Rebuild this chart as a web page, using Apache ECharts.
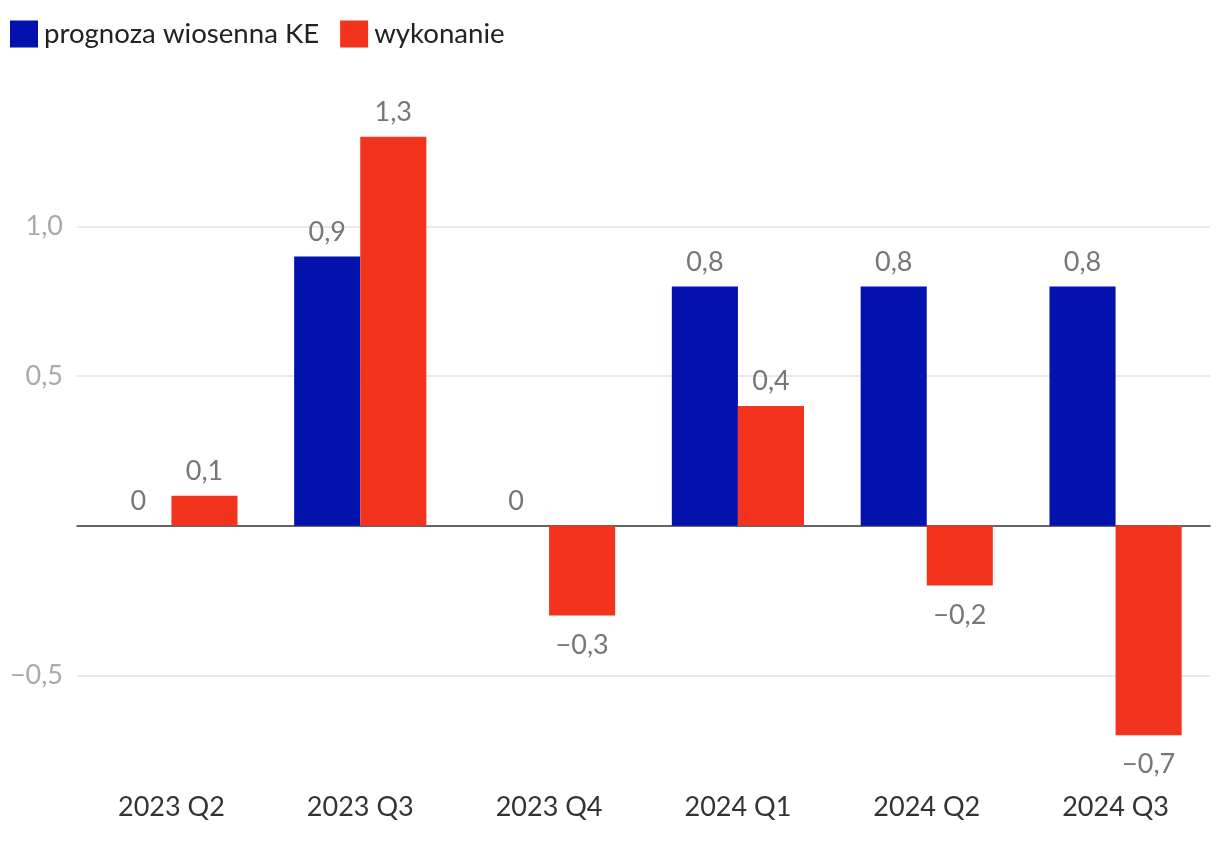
<!DOCTYPE html>
<html><head><meta charset="utf-8">
<script src="https://cdn.jsdelivr.net/npm/echarts@6/dist/echarts.min.js"></script>
<style>html,body{margin:0;padding:0;background:#fff}#c{width:1220px;height:842px}</style>
</head><body><div id="c"></div>
<script>
const categories = ['2023 Q2','2023 Q3','2023 Q4','2024 Q1','2024 Q2','2024 Q3'];
const forecast = [0, 0.9, 0, 0.8, 0.8, 0.8];
const actual = [0.1, 1.3, -0.3, 0.4, -0.2, -0.7];
const yTicks = [-0.5, 0.5, 1.0];
const seriesNames = ['prognoza wiosenna KE','wykonanie'];

function fmt(v){
  if (v === 0) return '0';
  const s = Math.abs(v).toFixed(1).replace('.', ',');
  return (v < 0 ? '\u2212' : '') + s;
}
function items(arr){
  return arr.map(v => ({value: v, label: v < 0 ? {position: 'bottom', distance: 16} : {position: 'top', distance: 11}}));
}
const chart = echarts.init(document.getElementById('c'));
const labelStyle = {show: true, formatter: p => fmt(p.value), color: '#777', fontSize: 27, fontFamily: 'Lato'};
chart.setOption({
  animation: false,
  textStyle: {fontFamily: 'Lato'},
  legend: {left: 10, top: 20, padding: 0, itemWidth: 28, itemHeight: 27, itemGap: 21, icon: 'rect',
    textStyle: {fontSize: 27.6, color: '#222', fontFamily: 'Lato', padding: [0,0,0,1]},
    data: seriesNames},
  grid: {left: 77, right: 10, top: 92, bottom: 62},
  xAxis: {type: 'category', data: categories,
    axisLine: {onZero: true, lineStyle: {color: '#333', width: 1.5}},
    axisTick: {show: false},
    axisLabel: {color: '#333', fontSize: 27, fontFamily: 'Lato', margin: 14, interval: 0},
    position: 'bottom'},
  yAxis: {type: 'value', min: -0.85, max: 1.45,
    splitLine: {show: false},
    axisLine: {show: false}, axisTick: {show: false},
    axisLabel: {customValues: yTicks, color: '#aaa', fontSize: 27, fontFamily: 'Lato', margin: 14,
      formatter: v => fmt(v)}},
  series: [
    {name: 'grid', type: 'line', data: [], z: 0, silent: true,
     markLine: {silent: true, symbol: 'none', label: {show: false}, z: 0,
       lineStyle: {color: '#e3e3e3', type: 'solid', width: 1.5},
       data: yTicks.map(t => ({yAxis: t}))}},
    {name: seriesNames[0], type: 'bar', data: items(forecast), itemStyle: {color: '#0311AD'},
     barGap: '0%', barCategoryGap: '30%', label: labelStyle, z: 3},
    {name: seriesNames[1], type: 'bar', data: items(actual), itemStyle: {color: '#F2341F'},
     barGap: '0%', barCategoryGap: '30%', label: labelStyle, z: 3}
  ]
});
</script></body></html>
